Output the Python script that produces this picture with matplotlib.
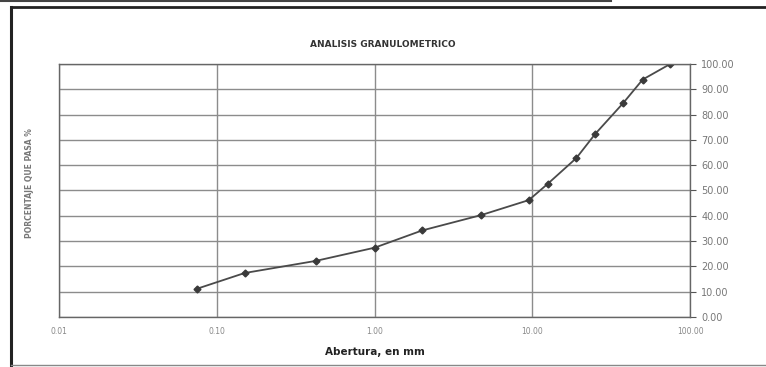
import numpy as np
import matplotlib
matplotlib.use("Agg")
from matplotlib import pyplot as plt
from matplotlib.lines import Line2D

# sieve opening (mm) and percent passing
abertura = [0.075, 0.15, 0.425, 1.00, 2.00, 4.75, 9.50, 12.50, 19.00, 25.00, 37.50, 50.00, 75.00]
pasa = [11.2, 17.4, 22.2, 27.4, 34.2, 40.3, 46.2, 52.6, 62.8, 72.3, 84.4, 93.8, 100.0]

x_ticks = [0.01, 0.1, 1, 10, 100]
y_ticks = list(range(0, 101, 10))

fig = plt.figure(figsize=(7.66, 3.67), dpi=100)
ax = fig.add_axes([0.077, 0.136, 0.824, 0.690])

ax.plot(abertura, pasa, color="#4a4a4a", linewidth=1.3, marker="D",
        markersize=3.5, markerfacecolor="#3a3a3a", markeredgecolor="#3a3a3a")

ax.set_xscale("log")
ax.set_xlim(0.01, 100)
ax.set_ylim(0, 100)
ax.set_xticks(x_ticks)
ax.set_xticklabels(["%.2f" % v for v in x_ticks])
ax.minorticks_off()
ax.set_yticks(y_ticks)
ax.set_yticklabels(["%.2f" % v for v in y_ticks])
ax.yaxis.tick_right()
ax.tick_params(axis="y", direction="out", length=4, colors="#555555",
               labelcolor="#777777", labelsize=7, pad=4)
ax.tick_params(axis="x", length=0, labelcolor="#888888", labelsize=5.5, pad=7)
ax.grid(True, color="#8c8c8c", linewidth=1.0)
for s in ax.spines.values():
    s.set_color("#666666")
    s.set_linewidth(1.0)

ax.set_xlabel("Abertura, en mm", fontsize=7.5, fontweight="bold", color="#222222", labelpad=8)
fig.text(0.039, 0.50, "PORCENTAJE QUE PASA %", rotation=90, fontsize=5.5,
         fontweight="bold", color="#777777", ha="center", va="center")
fig.text(0.5, 0.88, "ANALISIS GRANULOMETRICO", fontsize=6.5, fontweight="bold",
         color="#333333", ha="center", va="center")

# outer frame of the scanned page
fig.add_artist(Line2D([0.015, 0.015], [0.0, 0.982], transform=fig.transFigure,
                      color="#222222", linewidth=2.2))
fig.add_artist(Line2D([0.015, 1.0], [0.982, 0.982], transform=fig.transFigure,
                      color="#222222", linewidth=2.0))
fig.add_artist(Line2D([0.015, 1.0], [0.006, 0.006], transform=fig.transFigure,
                      color="#888888", linewidth=1.0))
fig.add_artist(Line2D([0.0, 0.797], [0.998, 0.998], transform=fig.transFigure,
                      color="#444444", linewidth=1.5))

fig.savefig("out.png", dpi=100)
